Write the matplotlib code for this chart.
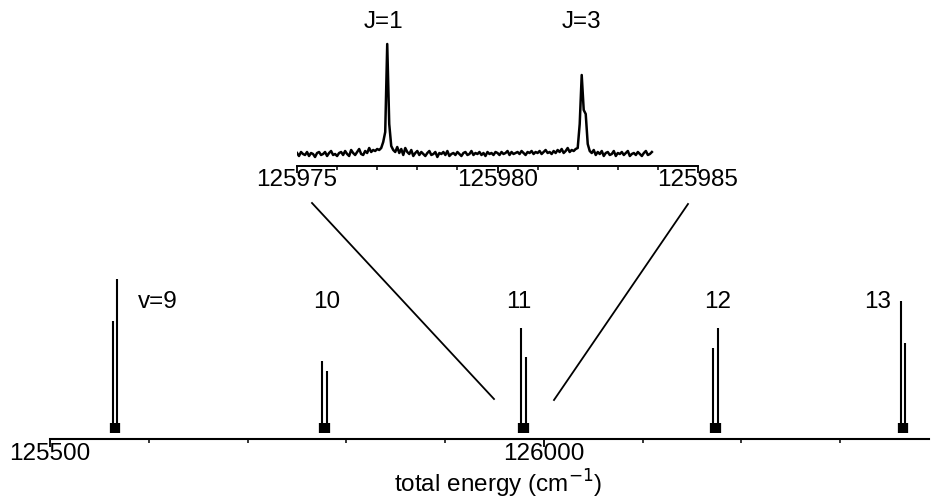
import numpy as np
import matplotlib
matplotlib.use("Agg")
import matplotlib.pyplot as plt
from matplotlib.lines import Line2D
from matplotlib.ticker import MultipleLocator

plt.rcParams['font.family'] = ['Liberation Sans', 'DejaVu Sans']

# ---- main spectrum data (cm^-1, relative intensity) ----
band_labels = ["v=9", "10", "11", "12", "13"]
label_x = [125609, 125780, 125975, 126176, 126338]
label_y = [130, 130, 130, 130, 130]
line_j1_pos = [125564, 125775, 125977.3, 126171, 126362]
line_j3_pos = [125568, 125780, 125982.1, 126176, 126366]
line_j1_int = [111, 71, 104, 84, 131]
line_j3_int = [153, 61, 75, 104, 89]
base_blob = [9, 9, 9, 9, 9]

# ---- inset: high-resolution scan of v=11 ----
inset_start = 125975.0
inset_step = 0.05
inset_int = [
    1, -2, 2, 0, -1, 2, -2, 1, 0, -3,
    1, 2, -1, 0, 2, -2, 1, 3, -1, 0,
    -2, 1, 2, -1, 3, 0, -2, 4, 1, -1,
    2, 5, 0, -1, 3, 1, 6, 2, 4, 3,
    5, 4, 6, 12, 22, 110, 30, 8, 4, 2,
    7, 1, 5, -1, 6, 2, 0, 4, -2, 1,
    3, -1, 2, 0, -2, 1, 3, -1, 0, 2,
    -3, 1, 0, 2, -1, 3, -2, 0, 1, -1,
    2, 0, -2, 1, 2, -1, 0, 3, -1, 1,
    0, 2, -1, 1, -2, 2, 0, 1, -1, 2,
    1, -1, 2, 0, 1, 3, -1, 2, 0, 1,
    2, 0, 3, 1, -1, 2, 1, 3, 0, 2,
    1, 3, 0, 2, 4, 1, 2, 0, 3, 1,
    4, 2, 5, 1, 3, 6, 2, 4, 3, 5,
    6, 30, 79, 44, 40, 10, 3, 1, 4, -1,
    2, 0, 3, -2, 1, 2, -1, 0, 3, -2,
    1, 0, 2, -1, 1, 3, -2, 0, 1, -1,
    2, 0, -2, 1, 3, -1, 0, 2,
]
inset_labels = ["J=1", "J=3"]
inset_label_x = [125977.15, 125982.1]
inset_label_y = [132, 132]

W, H = 944, 500
fig = plt.figure(figsize=(W / 100, H / 100), dpi=100)
FS = 17.5

def px_rect(l, t, r, b):
    return [l / W, 1 - b / H, (r - l) / W, (b - t) / H]

# ---- main axes ----
ax = fig.add_axes(px_rect(50, 270, 929, 439))
ax.set_xlim(125500, 126390)
ax.set_ylim(-7, 162)
all_pos = line_j1_pos + line_j3_pos
all_int = line_j1_int + line_j3_int
ax.vlines(all_pos, 0, all_int, color='black', lw=1.5)
ax.vlines(all_pos, -1, base_blob + base_blob, color='black', lw=4.5)
for t, x, y in zip(band_labels, label_x, label_y):
    ax.text(x, y, t, ha='center', va='center', fontsize=FS)

for s in ['top', 'left', 'right']:
    ax.spines[s].set_visible(False)
ax.spines['bottom'].set_linewidth(1.5)
ax.set_yticks([])
ax.xaxis.set_major_locator(MultipleLocator(500))
ax.xaxis.set_minor_locator(MultipleLocator(100))
ax.xaxis.set_major_formatter(matplotlib.ticker.FuncFormatter(lambda v, p: f"{v:.0f}"))
ax.tick_params(axis='x', which='major', direction='out', length=6, width=1.3,
               pad=-3, labelsize=FS)
ax.tick_params(axis='x', which='minor', direction='out', length=3, width=1.1)

# ---- inset axes ----
axi = fig.add_axes(px_rect(297, 40, 698, 166))
xi = inset_start + inset_step * np.arange(len(inset_int))
axi.plot(xi, inset_int, color='black', lw=1.8)
axi.set_xlim(125975, 125985)
axi.set_ylim(-12, 114)
for t, x, y in zip(inset_labels, inset_label_x, inset_label_y):
    axi.text(x, y, t, ha='center', va='center', fontsize=FS, clip_on=False)
for s in ['top', 'left', 'right']:
    axi.spines[s].set_visible(False)
axi.spines['bottom'].set_linewidth(1.4)
axi.set_yticks([])
axi.xaxis.set_major_locator(MultipleLocator(5))
axi.xaxis.set_minor_locator(MultipleLocator(1))
axi.xaxis.set_major_formatter(matplotlib.ticker.FuncFormatter(lambda v, p: f"{v:.0f}"))
axi.tick_params(axis='x', which='major', direction='out', length=5, width=1.3,
                pad=-3, labelsize=FS)
axi.tick_params(axis='x', which='minor', direction='out', length=3, width=1.1)

# ---- connecting lines ----
for (x0, y0), (x1, y1) in [((312, 203), (494, 399)), ((688, 204), (554, 400))]:
    fig.add_artist(Line2D([x0 / W, x1 / W], [1 - y0 / H, 1 - y1 / H],
                          transform=fig.transFigure, color='black', lw=1.3))

fig.text(498 / W, 1 - 484 / H, "total energy (cm$^{-1}$)", ha='center', va='center',
         fontsize=FS)

fig.savefig("out.png", dpi=100)
